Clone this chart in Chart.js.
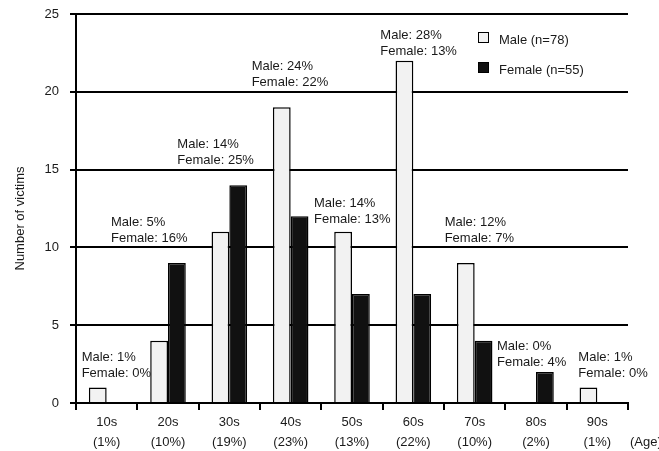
<!DOCTYPE html>
<html>
<head>
<meta charset="utf-8">
<script src="https://cdn.jsdelivr.net/npm/chart.js@4/dist/chart.umd.min.js"></script>
<style>
  html, body { margin: 0; padding: 0; background: #fff; }
  #wrap { width: 659px; height: 451px; }
</style>
</head>
<body>
<div id="wrap"><canvas id="myChart"></canvas></div>
<script>
const ages = ['10s', '20s', '30s', '40s', '50s', '60s', '70s', '80s', '90s'];
const agePct = ['(1%)', '(10%)', '(19%)', '(23%)', '(13%)', '(22%)', '(10%)', '(2%)', '(1%)'];
const male = [1, 4, 11, 19, 11, 22, 9, 0, 1];
const female = [0, 9, 14, 12, 7, 7, 4, 2, 0];
const malePct = ['1%', '5%', '14%', '24%', '14%', '28%', '12%', '0%', '1%'];
const femalePct = ['0%', '16%', '25%', '22%', '13%', '13%', '7%', '4%', '0%'];
const yTicks = [0, 5, 10, 15, 20, 25];

const FONT = '"Liberation Sans", Arial, sans-serif';
const labels = ages.map((a, i) => [a, agePct[i]]);

// where each "Male / Female" note sits: x shift from category centre (px), y of first line (value)
const notePlace = [
  [-25, 2.95], [-57, 11.6], [-52, 16.65], [-39, 21.6], [-38, 12.8],
  [-33, 23.65], [-30, 11.6], [-39, 3.65], [-19, 2.95]
];

const notesPlugin = {
  id: 'notes',
  afterDraw(chart) {
    const ctx = chart.ctx;
    const x = chart.scales.x, y = chart.scales.y;
    const area = chart.chartArea;
    ctx.save();
    ctx.font = '13px ' + FONT;
    ctx.fillStyle = '#1a1a1a';
    ctx.textAlign = 'left';
    ctx.textBaseline = 'middle';
    ages.forEach((a, i) => {
      const px = x.getPixelForValue(i) + notePlace[i][0];
      const py = y.getPixelForValue(notePlace[i][1]);
      ctx.fillText('Male: ' + malePct[i], px, py);
      ctx.fillText('Female: ' + femalePct[i], px, py + 16);
    });

    // legend
    const lx = area.right - 150;
    const ds = chart.data.datasets;
    [32, 62].forEach((top, k) => {
      ctx.fillStyle = ds[k].backgroundColor;
      ctx.fillRect(lx, top, 11, 11);
      ctx.lineWidth = 1;
      ctx.strokeStyle = '#000';
      ctx.strokeRect(lx + 0.5, top + 0.5, 10, 10);
      ctx.fillStyle = '#1a1a1a';
      ctx.fillText(ds[k].label, lx + 21, top + 8);
    });

    // axis unit
    ctx.fillText('(Age)', area.right + 2, 442);

    // y axis title, sits a bit below the middle like the original
    ctx.translate(20, (area.top + area.bottom) / 2 + 10);
    ctx.rotate(-Math.PI / 2);
    ctx.textAlign = 'center';
    ctx.fillText('Number of victims', 0, 0);
    ctx.restore();
  }
};

new Chart(document.getElementById('myChart'), {
  type: 'bar',
  data: {
    labels: labels,
    datasets: [
      {
        label: 'Male (n=78)',
        data: male,
        backgroundColor: '#f2f2f2',
        borderColor: '#000',
        borderWidth: 1.5,
        borderSkipped: 'bottom'
      },
      {
        label: 'Female (n=55)',
        data: female,
        backgroundColor: '#111111',
        borderColor: '#000',
        borderWidth: 1.5,
        borderSkipped: 'bottom'
      }
    ]
  },
  plugins: [notesPlugin],
  options: {
    responsive: true,
    maintainAspectRatio: false,
    animation: false,
    layout: { padding: { top: 14, right: 31, bottom: 0, left: 0 } },
    datasets: {
      bar: { categoryPercentage: 0.58, barPercentage: 1 }
    },
    plugins: {
      legend: { display: false },
      tooltip: { enabled: false }
    },
    scales: {
      x: {
        offset: true,
        grid: {
          offset: true,
          drawOnChartArea: false,
          drawTicks: true,
          tickLength: 7,
          color: '#000',
          lineWidth: 2
        },
        border: { color: '#000', width: 2 },
        ticks: {
          color: '#1a1a1a',
          font: { family: FONT, size: 13, lineHeight: 1.52 },
          padding: 3,
          maxRotation: 0,
          autoSkip: false
        },
        afterFit(scale) { scale.height = 48; }
      },
      y: {
        min: 0,
        max: 25,
        afterBuildTicks(scale) { scale.ticks = yTicks.map(v => ({ value: v })); },
        grid: { color: '#000', lineWidth: 2, tickLength: 6 },
        border: { color: '#000', width: 2 },
        ticks: {
          color: '#1a1a1a',
          font: { family: FONT, size: 13 },
          padding: 11
        },
        afterFit(scale) {
          scale.width = 76;
          scale.paddingTop = 0;
          scale.paddingBottom = 0;
        }
      }
    }
  }
});
</script>
</body>
</html>
